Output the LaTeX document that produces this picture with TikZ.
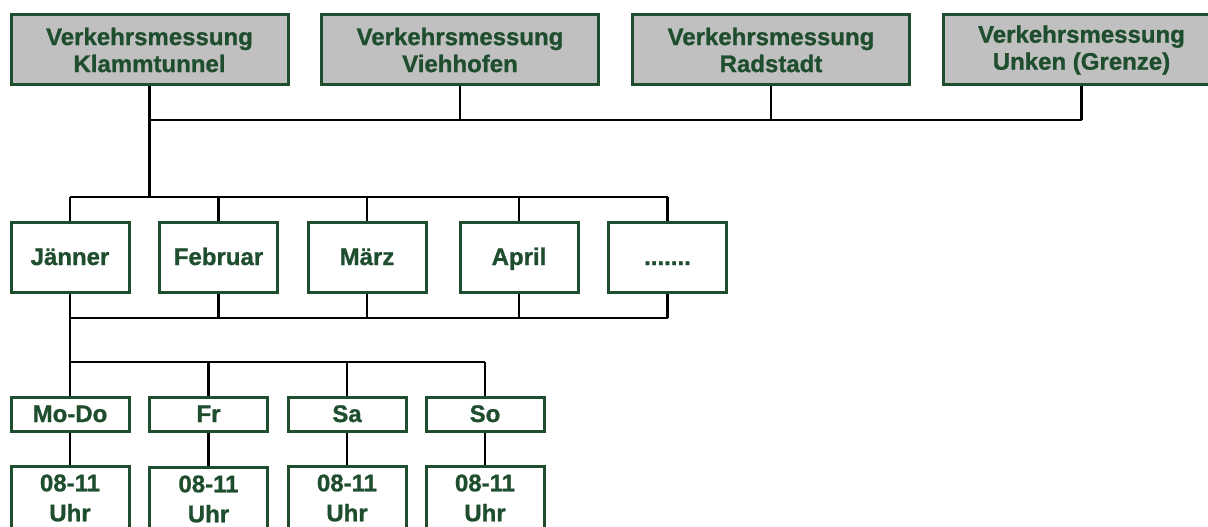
\documentclass[tikz,border=0pt]{standalone}
\usepackage{fontspec}
\setmainfont[BoldFeatures={FakeBold=1}]{Liberation Sans}
\begin{document}
\begin{tikzpicture}[x=1pt,y=-1pt,
  every node/.style={font=\bfseries\fontsize{24}{27}\selectfont, text=boxgreen, align=center, inner sep=0pt},
  box/.style={draw=boxgreen, line width=3pt, rectangle},
  topbox/.style={box, fill=boxgray, minimum width=277, minimum height=70},
  onerow/.style={text height=17, text depth=1},
  monthbox/.style={box, onerow, fill=white, minimum width=118, minimum height=70},
  daybox/.style={box, onerow, fill=white, minimum width=118, minimum height=34},
  hourbox/.style={box, fill=white, minimum width=118, minimum height=64,
    font=\bfseries\fontsize{24}{30}\selectfont},
  link/.style={draw=black, line width=2.6pt}]
\definecolor{boxgreen}{RGB}{31,78,47}
\definecolor{boxgray}{RGB}{192,192,192}
\clip (0,0) rectangle (1208,527);
\fill[white] (0,0) rectangle (1208,527);

% bus levels
\coordinate (topbus) at (0,120);
\coordinate (midbus) at (0,197);
\coordinate (lowbus) at (0,318);
\coordinate (daybus) at (0,362);

% measuring points
\node[topbox] (t1) at (149.5,50) {Verkehrsmessung\\Klammtunnel};
\node[topbox] (t2) at (460,50) {Verkehrsmessung\\Viehhofen};
\node[topbox] (t3) at (771,50) {Verkehrsmessung\\Radstadt};
\node[topbox] (t4) at (1081.5,50) {Verkehrsmessung\\Unken (Grenze)};

% months
\node[monthbox] (m1) at (70,257) {Jänner};
\node[monthbox] (m2) at (218.5,257) {Februar};
\node[monthbox] (m3) at (367,257) {März};
\node[monthbox] (m4) at (519,257) {April};
\node[monthbox] (m5) at (667.5,257) {.......};

% days
\node[daybox] (d1) at (70,414) {Mo-Do};
\node[daybox] (d2) at (208.5,414) {Fr};
\node[daybox] (d3) at (347,414) {Sa};
\node[daybox] (d4) at (485,414) {So};

% hours
\node[hourbox] (h1) at (70,498) {08-11\\Uhr};
\node[hourbox] (h2) at (208.5,499) {08-11\\Uhr};
\node[hourbox] (h3) at (347,498) {08-11\\Uhr};
\node[hourbox] (h4) at (485,498) {08-11\\Uhr};

% top bus
\draw[link] (t1.south|-topbus) -- (t4.south|-topbus);
\foreach \t in {t2,t3,t4} \draw[link] (\t.south) -- (\t.south|-topbus);
\draw[link] (t1.south) -- (t1.south|-midbus);

% month buses
\draw[link] (m1.north|-midbus) -- (m5.north|-midbus);
\draw[link] (m1.south|-lowbus) -- (m5.south|-lowbus);
\foreach \m in {m1,m2,m3,m4,m5} {
  \draw[link] (\m.north) -- (\m.north|-midbus);
  \draw[link] (\m.south) -- (\m.south|-lowbus);
}
\draw[link] (m1.south|-lowbus) -- (m1.south|-daybus);

% day bus
\draw[link] (d1.north|-daybus) -- (d4.north|-daybus);
\foreach \d/\h in {d1/h1,d2/h2,d3/h3,d4/h4} {
  \draw[link] (\d.north) -- (\d.north|-daybus);
  \draw[link] (\d.south) -- (\h.north);
}
\end{tikzpicture}
\end{document}
